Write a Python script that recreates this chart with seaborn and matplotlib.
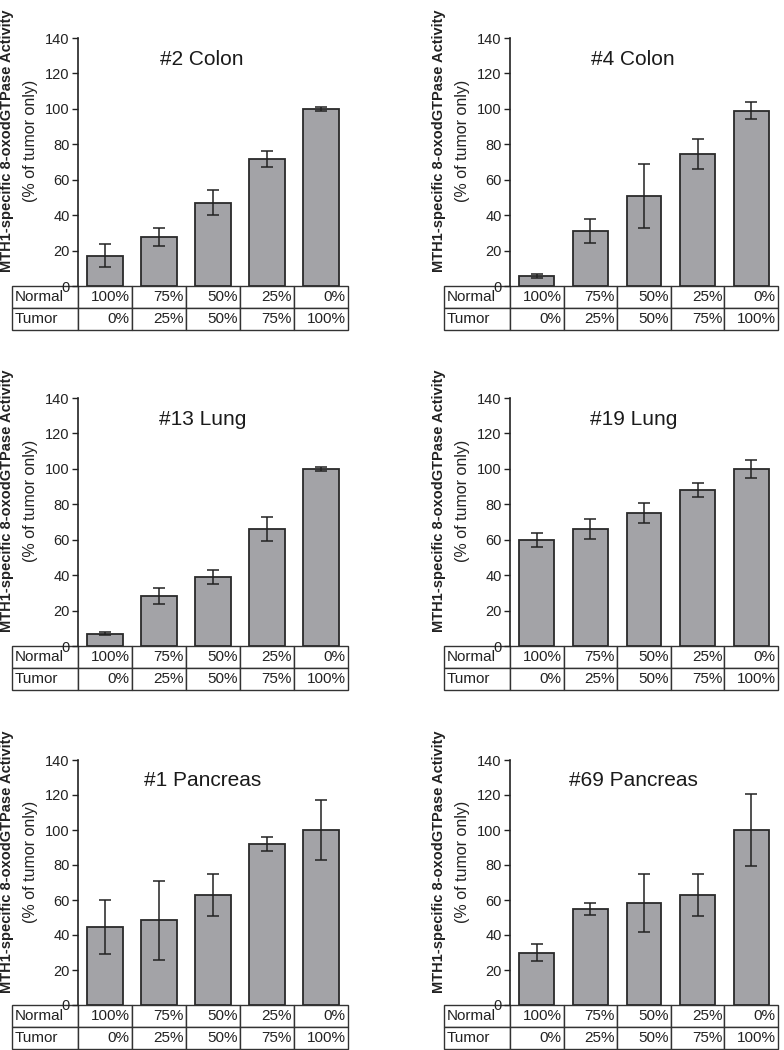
import numpy as np
import pandas as pd
import seaborn as sns
import matplotlib.pyplot as plt

# --- data ---
titles = ["#2 Colon", "#4 Colon", "#13 Lung", "#19 Lung", "#1 Pancreas", "#69 Pancreas"]
mixes = ["A", "B", "C", "D", "E"]
normal_labels = ["100%", "75%", "50%", "25%", "0%"]
tumor_labels = ["0%", "25%", "50%", "75%", "100%"]

colon2_mean = [17, 27.5, 47, 71.5, 100]
colon2_err = [6.5, 5, 7, 4.5, 1]
colon4_mean = [5.5, 31, 51, 74.5, 99]
colon4_err = [1, 7, 18, 8.5, 5]
lung13_mean = [7, 28, 39, 66, 100]
lung13_err = [1, 4.5, 4, 7, 1]
lung19_mean = [60, 66, 75, 88, 100]
lung19_err = [4, 5.5, 5.5, 4, 5]
panc1_mean = [44.5, 48.5, 63, 92, 100]
panc1_err = [15.5, 22.5, 12, 4, 17]
panc69_mean = [30, 55, 58.5, 63, 100]
panc69_err = [5, 3.5, 16.5, 12, 20.5]

means = [colon2_mean, colon4_mean, lung13_mean, lung19_mean, panc1_mean, panc69_mean]
errs = [colon2_err, colon4_err, lung13_err, lung19_err, panc1_err, panc69_err]

sns.set_style("ticks")
plt.rcParams['font.family'] = ['Liberation Sans', 'DejaVu Sans']

fig = plt.figure(figsize=(7.84, 10.5), dpi=100)

# axes boxes in pixels: (left, right) and (top-of-140, baseline)
col_x = [(78, 348), (510, 778)]
row_y = [(38, 286), (398, 646), (760, 1005)]
W, H = 784, 1050

bar_color = "#a3a3a7"

for i, title in enumerate(titles):
    c, r = i % 2, i // 2
    x0, x1 = col_x[c]
    yt, yb = row_y[r]
    ax = fig.add_axes([x0 / W, 1 - yb / H, (x1 - x0) / W, (yb - yt) / H])

    df = pd.DataFrame({"mix": mixes, "activity": means[i]})
    sns.barplot(data=df, x="mix", y="activity", color=bar_color, errorbar=None,
                width=0.65, edgecolor="#2a2a2a", linewidth=1.3, saturation=1, ax=ax)
    ax.errorbar(np.arange(len(mixes)), means[i], yerr=errs[i], fmt="none",
                ecolor="#222222", elinewidth=1.1, capsize=4.5, capthick=1.1)

    ax.set_xlim(-0.5, 4.5)
    ax.set_ylim(0, 140)
    ax.set_yticks(range(0, 141, 20))
    ax.tick_params(axis="y", labelsize=10.5, length=4, width=1, colors="#222222", pad=2)
    ax.set_xticks([])
    ax.set_xlabel("")
    ax.set_ylabel("")
    for s in ["top", "right"]:
        ax.spines[s].set_visible(False)
    ax.spines["left"].set_linewidth(1.2)
    ax.spines["left"].set_color("#222222")
    ax.spines["bottom"].set_visible(False)

    ax.text(0.46, 0.915, title, transform=ax.transAxes, ha="center", va="center",
            fontsize=15, color="#1a1a1a")

    # two-line y label
    px = x1 - x0
    ax.text(-71 / px, 0.585, "MTH1-specific 8-oxodGTPase Activity", transform=ax.transAxes,
            rotation=90, ha="center", va="center", fontsize=10.5, fontweight="bold",
            color="#222222")
    ax.text(-48 / px, 0.585, "(% of tumor only)", transform=ax.transAxes,
            rotation=90, ha="center", va="center", fontsize=11.5, color="#222222")

    # mixing table under the bars
    lab_w = 66 / px
    th = 44 / (yb - yt)
    cell_text = [["Normal"] + normal_labels, ["Tumor"] + tumor_labels]
    tbl = ax.table(cellText=cell_text, cellLoc="right",
                   colWidths=[lab_w] + [0.2] * 5,
                   bbox=[-lab_w, -th, 1 + lab_w, th])
    tbl.auto_set_font_size(False)
    for (rr, cc), cell in tbl.get_celld().items():
        cell.set_edgecolor("#333333")
        cell.set_linewidth(1.0)
        cell.set_facecolor("white")
        cell.get_text().set_fontsize(11)
        cell.get_text().set_color("#222222")
        if cc == 0:
            cell.get_text().set_ha("left")
            cell.PAD = 0.04
        else:
            cell.PAD = 0.04

fig.savefig("out.png", dpi=100)
